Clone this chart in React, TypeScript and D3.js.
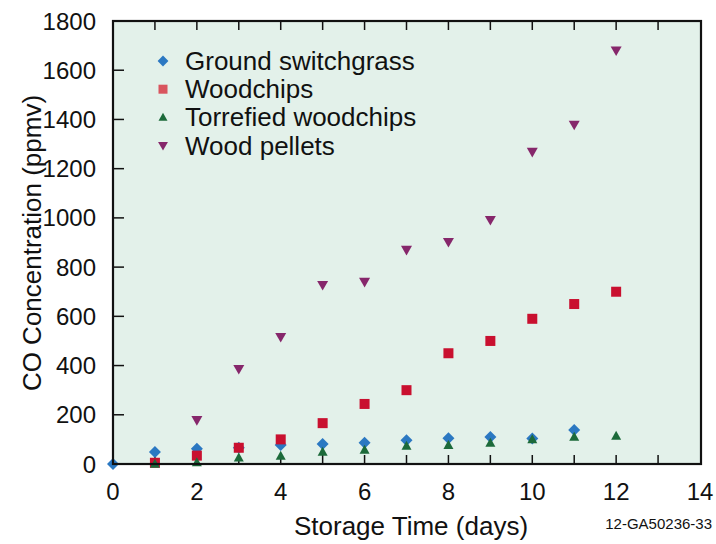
import React from "react";
import * as d3 from "d3";

const days = [0, 1, 2, 3, 4, 5, 6, 7, 8, 9, 10, 11, 12];

const switchgrassDays = [0, 1, 2, 3, 4, 5, 6, 7, 8, 9, 10, 11];
const switchgrass = [0, 49, 62, 66, 77, 81, 86, 97, 105, 110, 104, 138];

const woodchipsDays = [1, 2, 3, 4, 5, 6, 7, 8, 9, 10, 11, 12];
const woodchips = [5, 34, 66, 100, 166, 244, 300, 450, 500, 590, 650, 700];

const torrefiedDays = [1, 2, 3, 4, 5, 6, 7, 8, 9, 10, 11, 12];
const torrefied = [0, 6, 25, 33, 49, 57, 73, 76, 85, 100, 110, 114];

const pelletsDays = [2, 3, 4, 5, 6, 7, 8, 9, 10, 11, 12];
const pellets = [178, 386, 516, 727, 740, 870, 902, 991, 1268, 1378, 1680];

const xTicks = [0, 2, 4, 6, 8, 10, 12, 14];
const yTicks = [0, 200, 400, 600, 800, 1000, 1200, 1400, 1600, 1800];

const seriesNames = ["Ground switchgrass", "Woodchips", "Torrefied woodchips", "Wood pellets"];
const seriesColors = ["#2b78c2", "#c9102f", "#1c6a3a", "#86276b"];
const legendColors = ["#2b78c2", "#d9555e", "#1c6a3a", "#86276b"];

const FONT = "'Liberation Sans', Arial, Helvetica, sans-serif";

function marker(kind: number, cx: number, cy: number, color: string, s: number, key: string) {
  if (kind === 0) {
    const r = s * 0.6;
    return <path key={key} d={`M${cx},${cy - r}L${cx + r},${cy}L${cx},${cy + r}L${cx - r},${cy}Z`} fill={color} />;
  }
  if (kind === 1) {
    const h = s * 0.5;
    return <rect key={key} x={cx - h} y={cy - h} width={2 * h} height={2 * h} fill={color} />;
  }
  if (kind === 2) {
    const w = s * 0.5;
    return <path key={key} d={`M${cx},${cy - w * 1.05}L${cx + w},${cy + w * 0.75}L${cx - w},${cy + w * 0.75}Z`} fill={color} />;
  }
  const w = s * 0.55;
  return <path key={key} d={`M${cx},${cy + w * 1.0}L${cx + w},${cy - w * 0.75}L${cx - w},${cy - w * 0.75}Z`} fill={color} />;
}

export default function App() {
  const W = 716, H = 544;
  const left = 113, right = 700, top = 21, bottom = 464;
  const x = d3.scaleLinear().domain([0, 14]).range([left, right]);
  const y = d3.scaleLinear().domain([0, 1800]).range([bottom, top]);

  const series = [
    { d: switchgrassDays, v: switchgrass },
    { d: woodchipsDays, v: woodchips },
    { d: torrefiedDays, v: torrefied },
    { d: pelletsDays, v: pellets },
  ];

  const minorX = d3.range(1, 14);
  const leftTicks = yTicks.filter((t) => t > 0 && t < 1800);

  return (
    <svg width={W} height={H} style={{ position: "absolute", left: 0, top: 0, display: "block" }} fontFamily={FONT}>
      <rect x={0} y={0} width={W} height={H} fill="#ffffff" />
      <rect x={left} y={top} width={right - left + 1} height={bottom - top} fill="#e3f1ea" />
      {/* ticks */}
      {minorX.map((t) => (
        <g key={"xt" + t}>
          <line x1={x(t)} x2={x(t)} y1={bottom} y2={bottom - 9} stroke="#111" strokeWidth={1.5} />
          <line x1={x(t)} x2={x(t)} y1={top} y2={top + 9} stroke="#111" strokeWidth={1.5} />
        </g>
      ))}
      {leftTicks.map((t) => (
        <line key={"yt" + t} x1={left} x2={left + 11} y1={y(t)} y2={y(t)} stroke="#111" strokeWidth={1.5} />
      ))}
      {/* data */}
      {series.map((s, i) =>
        s.d.map((dd, j) => marker(i, x(dd), y(s.v[j]), seriesColors[i], 10, `m${i}-${j}`))
      )}
      {/* frame */}
      <rect x={left} y={top} width={right - left + 1} height={bottom - top} fill="none" stroke="#111" strokeWidth={2.2} />
      {/* tick labels */}
      {xTicks.map((t) => (
        <text key={"xl" + t} x={x(t)} y={500} textAnchor="middle" fontSize={24} fill="#111">
          {t}
        </text>
      ))}
      {yTicks.map((t) => (
        <text key={"yl" + t} x={96} y={y(t) + 8.5} textAnchor="end" fontSize={24} fill="#111">
          {t}
        </text>
      ))}
      {/* axis titles */}
      <text x={411} y={535} textAnchor="middle" fontSize={26} fill="#111">
        Storage Time (days)
      </text>
      <text transform={`translate(41,${243}) rotate(-90)`} textAnchor="middle" fontSize={26} fill="#111">
        CO Concentration (ppmv)
      </text>
      <text x={712} y={529} textAnchor="end" fontSize={15} fill="#111">
        12-GA50236-33
      </text>
      {/* legend */}
      {seriesNames.map((n, i) => (
        <g key={"lg" + i}>
          {marker(i, 163, 61 + i * 28.2, legendColors[i], 9, "lm" + i)}
          <text x={185} y={61 + i * 28.2 + 9} fontSize={26} fill="#111">
            {n}
          </text>
        </g>
      ))}
    </svg>
  );
}
